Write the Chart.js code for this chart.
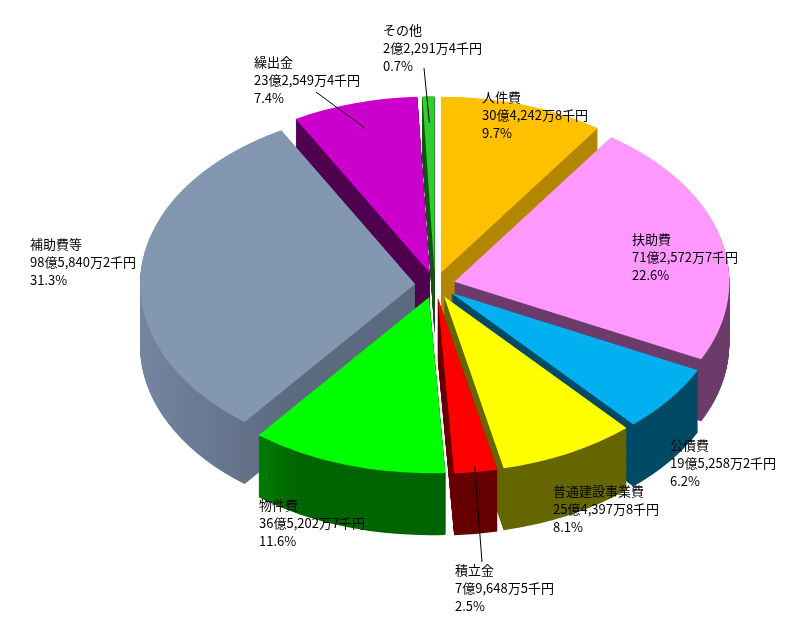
<!DOCTYPE html>
<html lang="ja">
<head>
<meta charset="UTF-8">
<title>歳出の内訳</title>
<script src="https://cdn.jsdelivr.net/npm/chart.js"></script>
<style>
  body { margin: 0; background: #fff; }
  #wrap { width: 811px; height: 617px; }
</style>
</head>
<body>
<div id="wrap"><canvas id="myChart" width="811" height="617"></canvas></div>
<script>
// 区分（12時の位置から時計回り）
const categories = ['人件費', '扶助費', '公債費', '普通建設事業費', '積立金', '物件費', '補助費等', '繰出金', 'その他'];
// 金額（千円）
const amounts = [3042428, 7125727, 1952582, 2543978, 796485, 3652027, 9858402, 2325494, 222914];

// 上面の色・側面の色（明→暗）
const topColors = ['#FFC000', '#FF99FF', '#00B0F0', '#FFFF00', '#FF0000', '#00FF00', '#8497B0', '#CC00CC', '#33CC33'];
const sideLight = ['#B38600', '#6B3B6B', '#004A66', '#666600', '#660000', '#00B400', '#7585A0', '#4F004F', '#145214'];
const sideDark  = ['#B38600', '#6B3B6B', '#004A66', '#666600', '#660000', '#006400', '#5C6A80', '#4F004F', '#145214'];

// ラベルの位置（1行目の左端・中心y）
const labelPos = [[482, 97], [632, 239], [670, 445], [553, 491], [455, 570], [259, 505], [30, 244], [254, 62], [383, 30]];
// 引き出し線 [始点x, 始点y, 扇形内の半径比]
const leaders = [null, null, null, null, [482, 562, 0.97], null, null, [316, 92, 0.85], [424, 68, 0.85]];

const SQUASH = 0.64;   // 縦のつぶれ具合
const DEPTH = 62;      // 厚み（画面px）
const EXPLODE = 20;    // 切り離し量

function fmtAmount(v) {
    const oku = Math.floor(v / 100000);
    const man = Math.floor((v % 100000) / 10);
    const sen = v % 10;
    return oku + '億' + man.toLocaleString('en-US') + '万' + sen + '千円';
}
const total = amounts.reduce((s, v) => s + v, 0);

function midAngle(a) { return (a.startAngle + a.endAngle) / 2; }

const pie3d = {
    id: 'pie3d',
    afterDatasetUpdate(chart) {
        // 扇形を中心から外へずらす
        chart.getDatasetMeta(0).data.forEach(a => {
            const m = midAngle(a);
            a.x += Math.cos(m) * EXPLODE;
            a.y += Math.sin(m) * EXPLODE;
        });
    },
    beforeDatasetsDraw(chart) {
        const ctx = chart.ctx;
        const ca = chart.chartArea;
        const cx = (ca.left + ca.right) / 2, cy = (ca.top + ca.bottom) / 2;
        ctx.save();
        ctx.translate(cx, cy);
        ctx.scale(1, SQUASH);
        ctx.translate(-cx, -cy);

        const arcs = chart.getDatasetMeta(0).data;
        const order = arcs.map((a, i) => i).sort((i, j) => Math.sin(midAngle(arcs[i])) - Math.sin(midAngle(arcs[j])));
        order.forEach(i => {
            const a = arcs[i];
            const r = a.outerRadius;
            const g = ctx.createLinearGradient(a.x - r, 0, a.x + r * 0.2, 0);
            g.addColorStop(0, sideLight[i]);
            g.addColorStop(0.45, sideDark[i]);
            g.addColorStop(1, sideDark[i]);
            ctx.fillStyle = g;
            for (let d = DEPTH / SQUASH; d >= 0.5; d -= 1) {
                ctx.beginPath();
                ctx.moveTo(a.x, a.y + d);
                ctx.arc(a.x, a.y + d, r, a.startAngle, a.endAngle);
                ctx.closePath();
                ctx.fill();
            }
        });
    },
    afterDatasetsDraw(chart) {
        const ctx = chart.ctx;
        ctx.restore();

        const ca = chart.chartArea;
        const cy = (ca.top + ca.bottom) / 2;
        const arcs = chart.getDatasetMeta(0).data;

        ctx.save();
        // 引き出し線
        ctx.strokeStyle = '#000';
        ctx.lineWidth = 1;
        arcs.forEach((a, i) => {
            const l = leaders[i];
            if (!l) return;
            const m = midAngle(a);
            const px = a.x + Math.cos(m) * a.outerRadius * l[2];
            const py = cy + (a.y + Math.sin(m) * a.outerRadius * l[2] - cy) * SQUASH;
            ctx.beginPath();
            ctx.moveTo(l[0], l[1]);
            ctx.lineTo(px, py);
            ctx.stroke();
        });
        // ラベル
        ctx.fillStyle = '#000';
        ctx.font = '13px "Noto Sans CJK JP"';
        ctx.textAlign = 'left';
        ctx.textBaseline = 'middle';
        categories.forEach((c, i) => {
            const [x, y] = labelPos[i];
            ctx.fillText(c, x, y);
            ctx.fillText(fmtAmount(amounts[i]), x, y + 18);
            ctx.fillText((amounts[i] / total * 100).toFixed(1) + '%', x, y + 36);
        });
        ctx.restore();
    }
};

const ctx = document.getElementById('myChart').getContext('2d');
const myChart = new Chart(ctx, {
    type: 'pie',
    data: {
        labels: categories,
        datasets: [{
            data: amounts,
            backgroundColor: topColors,
            borderWidth: 0,
            radius: 275,
            clip: false
        }]
    },
    options: {
        responsive: false,
        animation: false,
        events: [],
        layout: { padding: { left: 59, right: 0, top: 0, bottom: 47 } },
        plugins: {
            legend: { display: false },
            tooltip: { enabled: false }
        }
    },
    plugins: [pie3d]
});
</script>
</body>
</html>
